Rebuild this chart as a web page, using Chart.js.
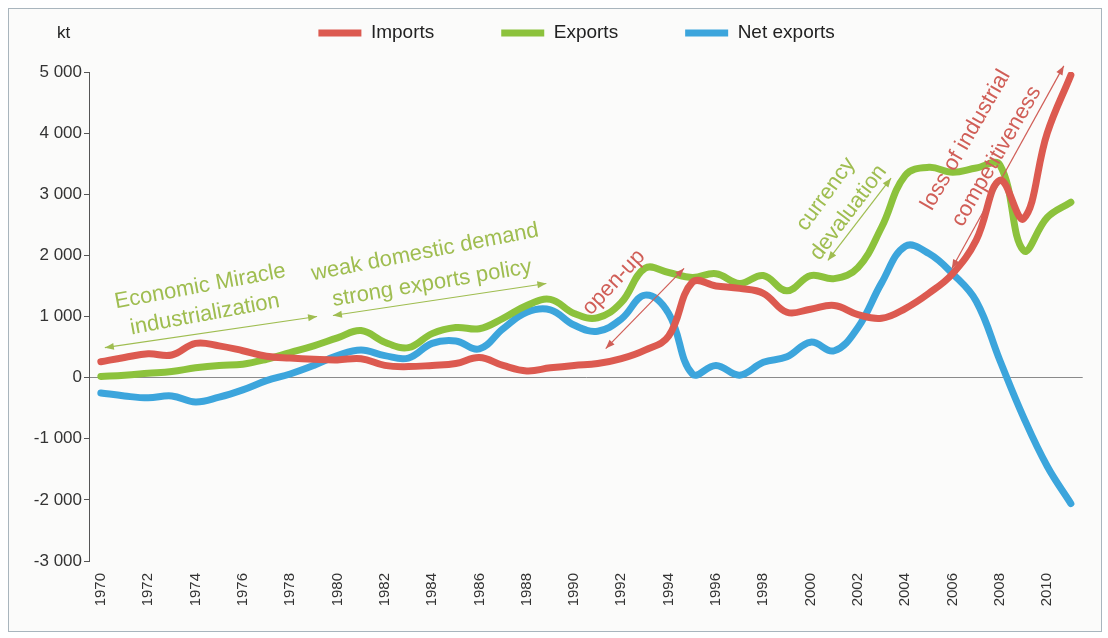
<!DOCTYPE html>
<html lang="en">
<head>
  <meta charset="UTF-8" />
  <title>Imports, exports and net exports (kt)</title>
  <script src="https://cdn.jsdelivr.net/npm/chart.js"></script>
  <style>
    body { margin: 0; background: #fff; }
    .frame {
      position: absolute;
      left: 8px; top: 8px;
      width: 1092px; height: 622px;
      border: 1px solid #a9b5bd;
      background: #fbfbfa;
    }
    canvas { display: block; }
  </style>
</head>
<body>
  <div class="frame"><canvas id="chart" width="1092" height="622"></canvas></div>

  <script>
    const FONT = "'Liberation Sans', Arial, sans-serif";

    const years = [1970, 1971, 1972, 1973, 1974, 1975, 1976, 1977, 1978, 1979,
                   1980, 1981, 1982, 1983, 1984, 1985, 1986, 1987, 1988, 1989,
                   1990, 1991, 1992, 1993, 1994, 1995, 1996, 1997, 1998, 1999,
                   2000, 2001, 2002, 2003, 2004, 2005, 2006, 2007, 2008, 2009,
                   2010, 2011];
    const imports = [260, 330, 390, 370, 560, 520, 440, 350, 320, 300,
                     290, 310, 200, 180, 200, 230, 330, 200, 110, 160,
                     200, 230, 310, 450, 680, 1560, 1500, 1460, 1380, 1070,
                     1120, 1180, 1030, 970, 1130, 1380, 1700, 2250, 3230, 2600,
                     4000, 4950];
    const exportsKt = [20, 40, 70, 100, 160, 200, 220, 300, 410, 520,
                       650, 770, 580, 490, 720, 820, 800, 970, 1180, 1280,
                       1050, 980, 1230, 1790, 1720, 1640, 1700, 1540, 1670, 1420,
                       1670, 1620, 1800, 2460, 3310, 3440, 3360, 3430, 3480, 2080,
                       2620, 2870];
    const netExports = [-250, -300, -330, -300, -400, -320, -200, -50, 60, 200,
                        360, 450, 360, 320, 560, 600, 470, 800, 1070, 1110,
                        860, 760, 960, 1350, 1050, 60, 200, 40, 250, 340,
                        580, 440, 820, 1550, 2150, 2030, 1700, 1250, 280, -650,
                        -1450, -2060];
    const yearLabels = years.map(String);

    // text notes and arrows, placed in data units (year, kt)
    const GREEN_TXT = '#9fbd50';
    const RED_TXT = '#d05e57';
    const notes = [
      { text: 'Economic Miracle', year: 1974.2, value: 1490, angle: -10.5, color: GREEN_TXT },
      { text: 'industrialization', year: 1974.4, value: 1030, angle: -10.5, color: GREEN_TXT },
      { text: 'weak domestic demand', year: 1983.7, value: 2050, angle: -11, color: GREEN_TXT },
      { text: 'strong exports policy', year: 1984.0, value: 1540, angle: -9.5, color: GREEN_TXT },
      { text: 'open-up', year: 1991.68, value: 1557, angle: -47, color: RED_TXT },
      { text: 'currency', year: 2000.65, value: 3000, angle: -54, color: GREEN_TXT },
      { text: 'devaluation', year: 2001.6, value: 2700, angle: -53, color: GREEN_TXT },
      { text: 'loss of industrial', year: 2006.56, value: 3885, angle: -60, color: RED_TXT },
      { text: 'competitiveness', year: 2007.86, value: 3620, angle: -60, color: RED_TXT }
    ];
    const arrows = [
      { from: [1970.17, 490], to: [1979.14, 1000], color: GREEN_TXT },
      { from: [1979.81, 1016], to: [1988.83, 1540], color: GREEN_TXT },
      { from: [1991.34, 475], to: [1994.65, 1787], color: RED_TXT },
      { from: [2000.73, 1918], to: [2003.4, 3262], color: GREEN_TXT },
      { from: [2005.97, 1786], to: [2010.7, 5100], color: RED_TXT }
    ];

    function arrowHead(ctx, x, y, ang) {
      ctx.beginPath();
      ctx.moveTo(x, y);
      ctx.lineTo(x - 9 * Math.cos(ang) + 3.5 * Math.sin(ang), y - 9 * Math.sin(ang) - 3.5 * Math.cos(ang));
      ctx.lineTo(x - 9 * Math.cos(ang) - 3.5 * Math.sin(ang), y - 9 * Math.sin(ang) + 3.5 * Math.cos(ang));
      ctx.closePath();
      ctx.fill();
    }

    const notesPlugin = {
      id: 'notes',
      beforeInit(chart) {
        // squeeze the legend box so the plot starts where the original does
        const fit = chart.legend.fit;
        chart.legend.fit = function () {
          fit.call(this);
          this.height = 115.5;
        };
      },
      afterLayout(chart) {
        // legend in the original sits a little right of the canvas centre
        chart.legend.left += 26.6;
        chart.legend.right += 26.6;
      },
      afterDatasetsDraw(chart) {
        const { ctx, chartArea, scales: { x, y } } = chart;
        const px = yr => x.getPixelForValue(yr - years[0]);
        ctx.save();
        ctx.font = '22px ' + FONT;
        ctx.textAlign = 'center';
        ctx.textBaseline = 'middle';
        notes.forEach(n => {
          ctx.save();
          ctx.translate(px(n.year), y.getPixelForValue(n.value));
          ctx.rotate(n.angle * Math.PI / 180);
          ctx.fillStyle = n.color;
          ctx.fillText(n.text, 0, 0);
          ctx.restore();
        });
        arrows.forEach(a => {
          const x1 = px(a.from[0]), y1 = y.getPixelForValue(a.from[1]);
          const x2 = px(a.to[0]), y2 = y.getPixelForValue(a.to[1]);
          const ang = Math.atan2(y2 - y1, x2 - x1);
          ctx.strokeStyle = a.color;
          ctx.fillStyle = a.color;
          ctx.lineWidth = 1.2;
          ctx.beginPath();
          ctx.moveTo(x1, y1);
          ctx.lineTo(x2, y2);
          ctx.stroke();
          arrowHead(ctx, x2, y2, ang);
          arrowHead(ctx, x1, y1, ang + Math.PI);
        });
        ctx.font = '17px ' + FONT;
        ctx.fillStyle = '#222';
        ctx.textAlign = 'left';
        ctx.fillText('kt', chartArea.left - 32, chartArea.top - 39);
        ctx.restore();
      }
    };

    const lineStyle = color => ({
      borderColor: color,
      backgroundColor: color,
      borderWidth: 7,
      borderCapStyle: 'round',
      borderJoinStyle: 'round',
      pointRadius: 0,
      tension: 0.4,
      fill: false
    });

    const fmt = v => (v < 0 ? '-' : '') + String(Math.abs(v)).replace(/\B(?=(\d{3})+(?!\d))/g, ' ');

    new Chart(document.getElementById('chart'), {
      type: 'line',
      data: {
        labels: yearLabels,
        datasets: [
          { label: 'Imports', data: imports, ...lineStyle('#dc5a50') },
          { label: 'Exports', data: exportsKt, ...lineStyle('#8cc23c') },
          { label: 'Net exports', data: netExports, ...lineStyle('#3ca5dc') }
        ]
      },
      options: {
        responsive: false,
        animation: false,
        layout: { padding: { left: 0, right: 10, top: -52.5, bottom: 0 } },
        plugins: {
          legend: {
            position: 'top',
            labels: {
              usePointStyle: true,
              pointStyle: 'line',
              pointStyleWidth: 43,
              padding: 67,
              color: '#222',
              font: { family: FONT, size: 19 }
            }
          },
          tooltip: { enabled: false }
        },
        scales: {
          x: {
            type: 'category',
            offset: true,
            afterFit: s => { s.height = 70; },
            grid: { display: false, drawTicks: false },
            border: { display: false },
            ticks: {
              autoSkip: false,
              minRotation: 90,
              maxRotation: 90,
              padding: 12,
              color: '#333',
              font: { family: FONT, size: 15 },
              callback: (v, i) => (i % 2 === 0 ? yearLabels[i] : '')
            }
          },
          y: {
            min: -3000,
            max: 5000,
            afterFit: s => { s.width = 80; },
            border: { color: '#555', width: 1 },
            grid: {
              color: c => (c.tick && c.tick.value === 0 ? '#8a8a8a' : 'transparent'),
              tickColor: '#555',
              tickLength: 5,
              lineWidth: 1
            },
            ticks: {
              stepSize: 1000,
              padding: 2,
              color: '#333',
              font: { family: FONT, size: 17 },
              callback: v => fmt(v)
            }
          }
        }
      },
      plugins: [notesPlugin]
    });
  </script>
</body>
</html>
